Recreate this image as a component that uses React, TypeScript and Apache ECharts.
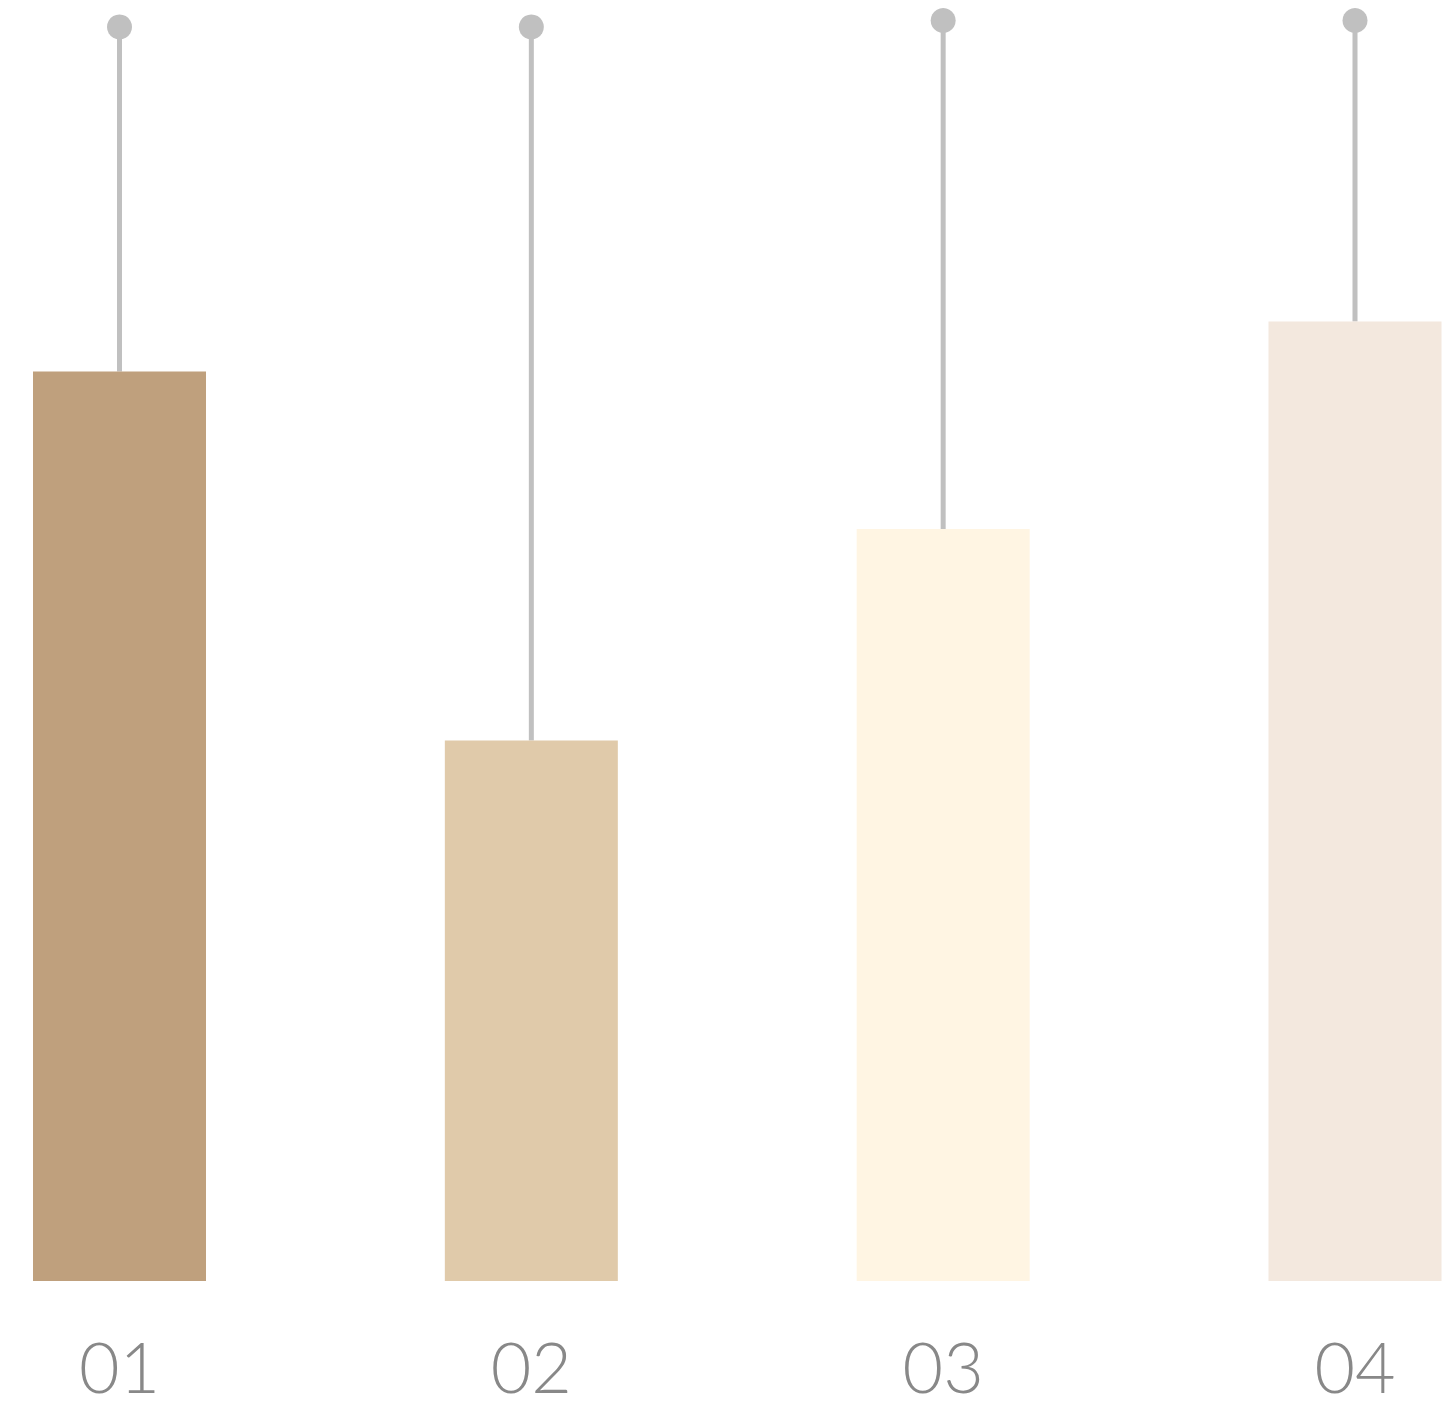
import React, { useEffect, useRef } from "react";
import * as echarts from "echarts";

const categories = ["01", "02", "03", "04"];
const barValues = [71.0, 42.2, 58.7, 74.9];
const pinValues = [97.9, 97.9, 98.4, 98.4];
const barColors = ["#BFA07D", "#E0CAAA", "#FFF5E3", "#F3E8DE"];

export default function App() {
  const ref = useRef<HTMLDivElement>(null);
  useEffect(() => {
    if (!ref.current) return;
    const chart = echarts.init(ref.current, undefined, { renderer: "svg" });
    chart.setOption({
      animation: false,
      backgroundColor: "#ffffff",
      grid: { left: 119.5, right: 99, top: 0, bottom: 129, containLabel: false },
      xAxis: {
        type: "category",
        data: categories,
        boundaryGap: false,
        axisLine: { show: false },
        axisTick: { show: false },
        splitLine: { show: false },
        axisLabel: {
          margin: 50,
          fontSize: 70,
          lineHeight: 70,
          fontFamily: "Lato",
          fontWeight: 300,
          color: "#888888",
        },
      },
      yAxis: { type: "value", min: 0, max: 100, show: false },
      series: [
        {
          type: "custom",
          z: 1,
          data: categories.map((_, i) => [i, barValues[i], pinValues[i]]),
          renderItem: (params: any, api: any) => {
            const a = api.coord([api.value(0), api.value(1)]);
            const b = api.coord([api.value(0), api.value(2)]);
            return {
              type: "line",
              shape: { x1: a[0], y1: a[1], x2: b[0], y2: b[1] },
              style: { stroke: "#C0C0C0", lineWidth: 5 },
            };
          },
        },
        {
          type: "bar",
          z: 2,
          clip: false,
          barWidth: 173,
          data: barValues.map((v, i) => ({ value: v, itemStyle: { color: barColors[i] } })),
        },
        {
          type: "scatter",
          z: 3,
          symbol: "circle",
          symbolSize: 25,
          itemStyle: { color: "#C0C0C0", opacity: 1 },
          data: pinValues,
        },
      ],
    });
    return () => chart.dispose();
  }, []);
  return (
    <div
      ref={ref}
      style={{ position: "absolute", left: 0, top: 0, width: 1454, height: 1410 }}
    />
  );
}
